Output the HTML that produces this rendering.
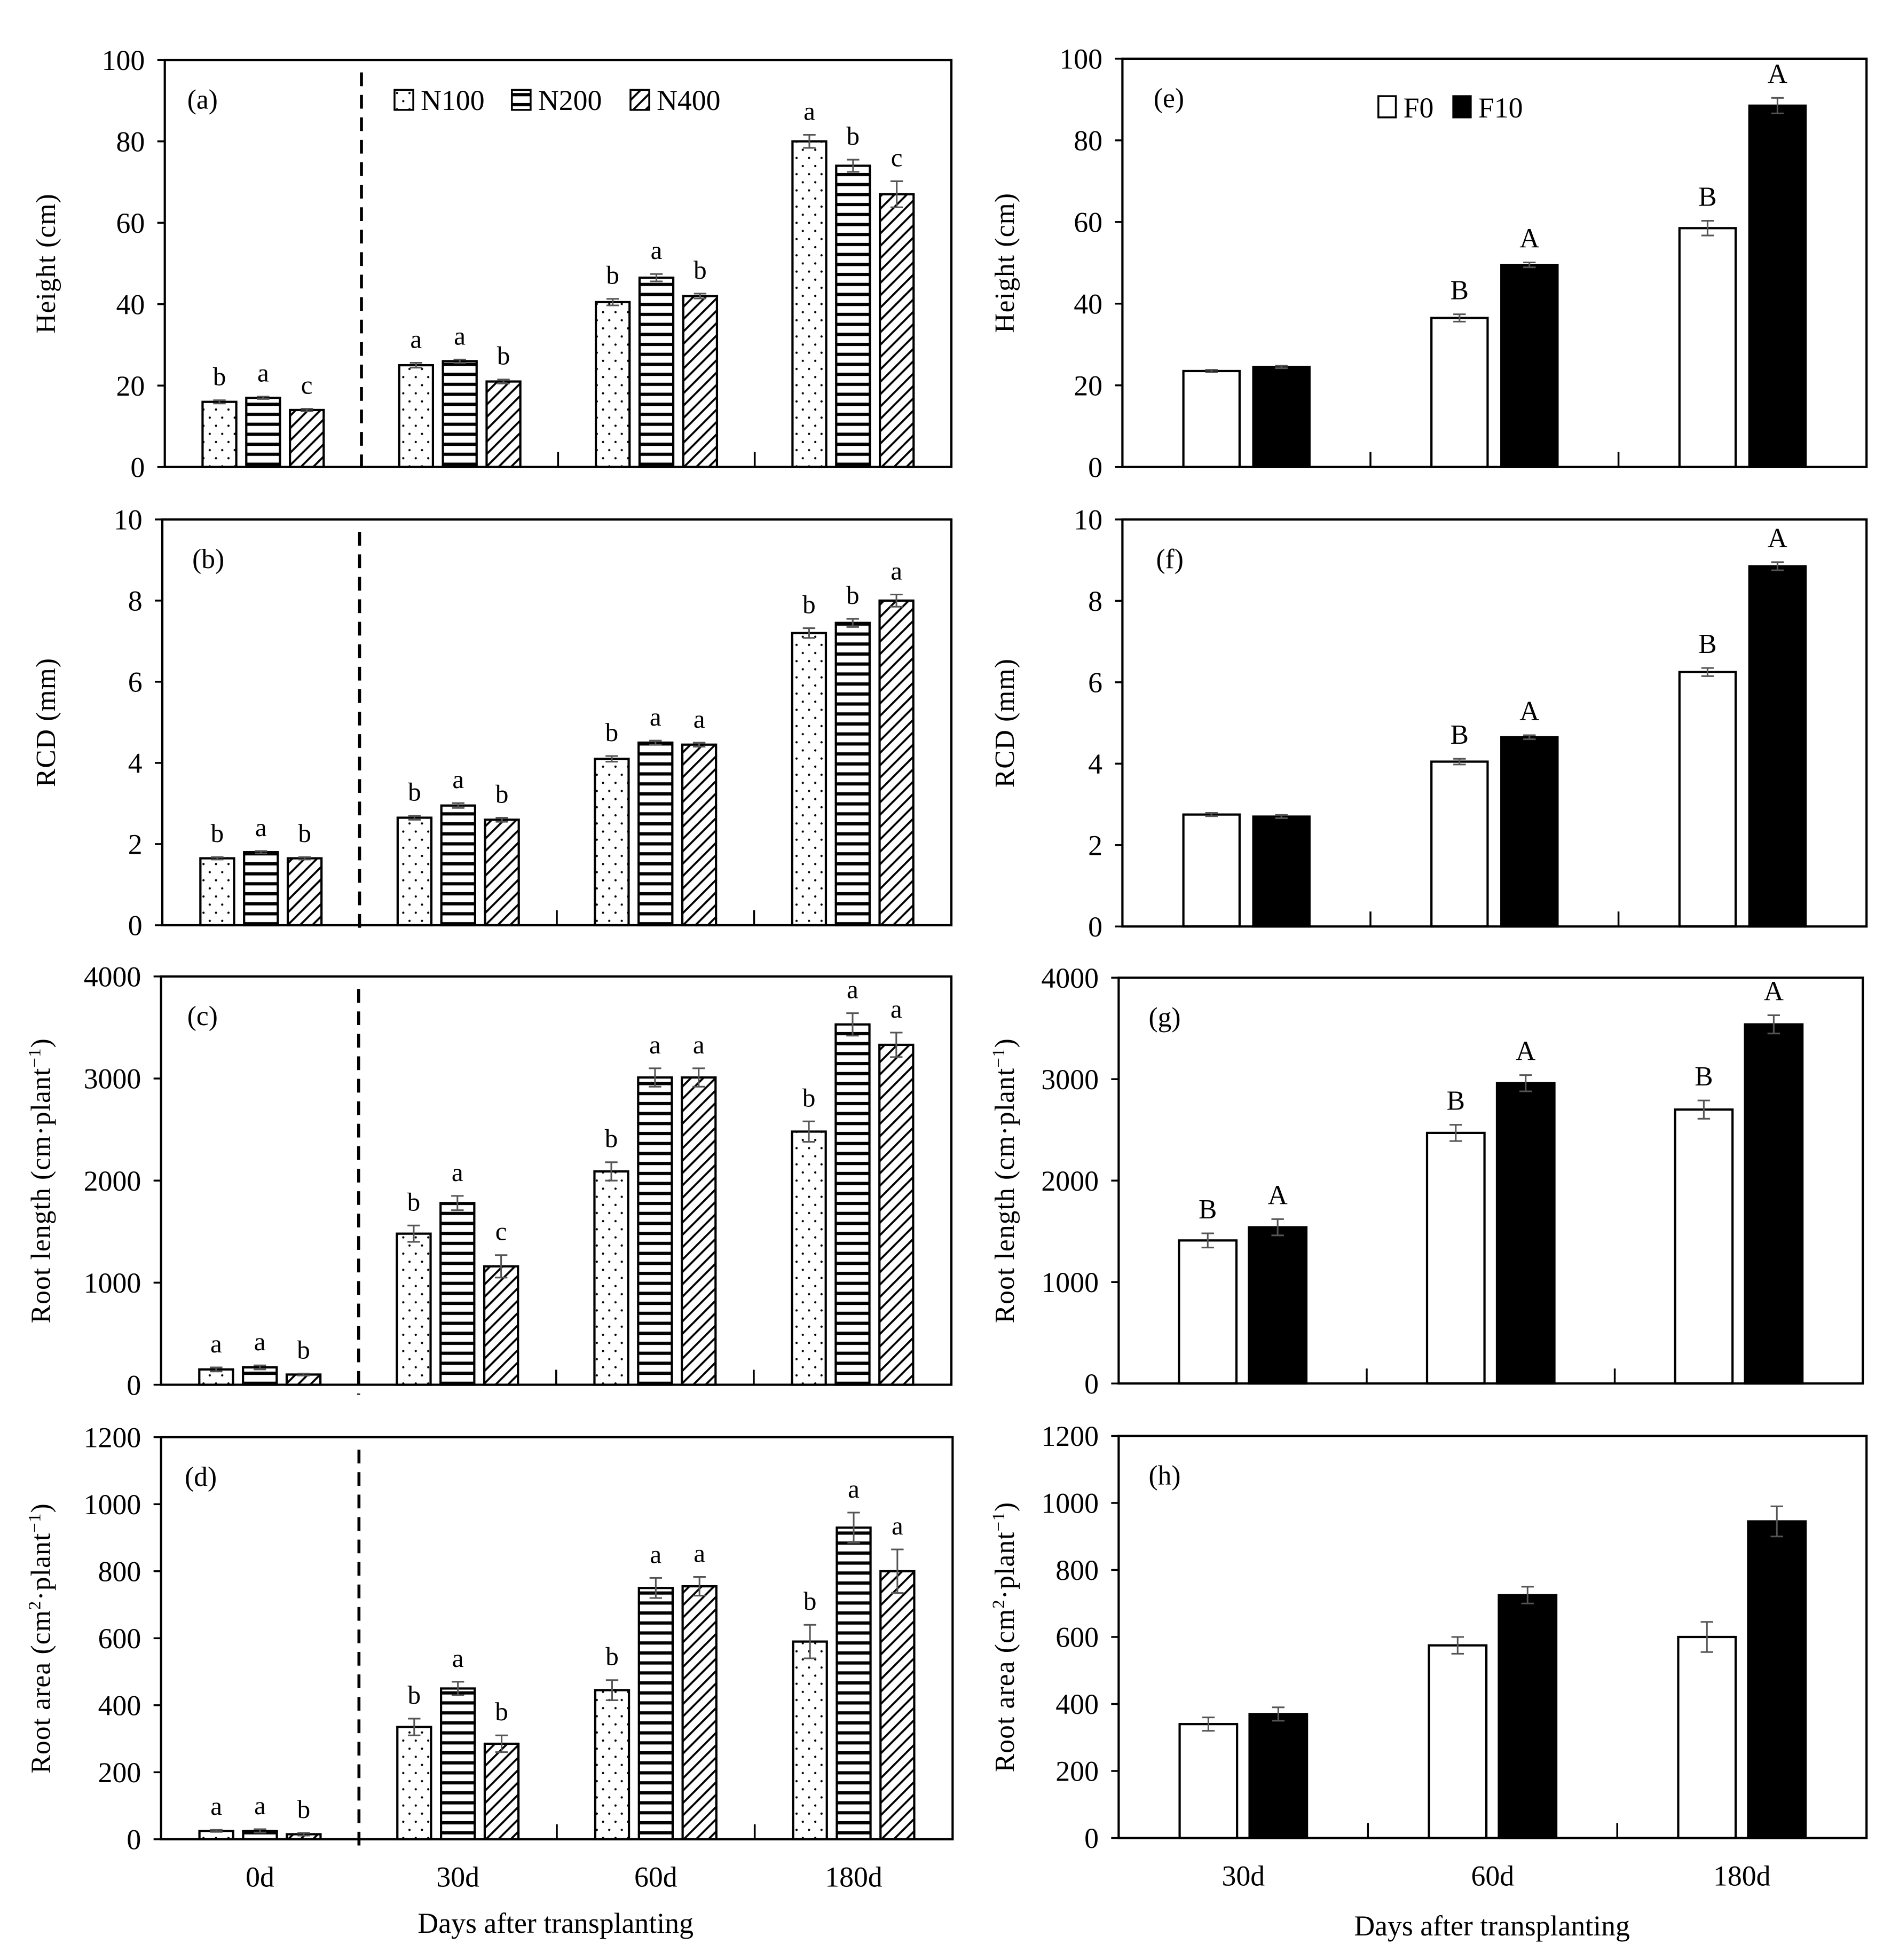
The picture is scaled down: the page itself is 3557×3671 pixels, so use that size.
<!DOCTYPE html>
<html><head><meta charset="utf-8"><style>
html,body{margin:0;padding:0;background:#fff}
svg{display:block}
text{font-family:"Liberation Serif",serif;fill:#000}
</style></head><body>
<svg id="fig" width="3557" height="3671" viewBox="0 0 1521 1569.7" preserveAspectRatio="none" xmlns="http://www.w3.org/2000/svg">
<defs>
<pattern id="pDots" width="10" height="13" patternUnits="userSpaceOnUse"><rect width="10" height="13" fill="#fff"/><circle cx="3" cy="3" r="0.9" fill="#000"/><circle cx="8" cy="9.5" r="0.9" fill="#000"/></pattern>
<pattern id="pHoriz" width="8" height="8" patternUnits="userSpaceOnUse"><rect width="8" height="8" fill="#fff"/><rect y="2.5" width="8" height="2.6" fill="#000"/></pattern>
<pattern id="pDiag" width="7" height="7" patternUnits="userSpaceOnUse" patternTransform="rotate(45)"><rect width="7" height="7" fill="#fff"/><rect x="0" width="1.6" height="7" fill="#000"/></pattern>
</defs>
</svg>
<script>
// ---- data ----
const daysN = ["0d","30d","60d","180d"];
const daysF = ["30d","60d","180d"];
const seriesN = ["N100","N200","N400"];
const seriesF = ["F0","F10"];
// Height (cm)
const heightN100 = [16,25,40.5,80];
const heightN200 = [17,26,46.5,74];
const heightN400 = [14,21,42,67];
const heightErrN = [[0.4,0.6,0.8,1.6],[0.3,0.4,0.9,1.5],[0.3,0.5,0.6,3.2]];
const heightLetN = [["b","a","b","a"],["a","a","a","b"],["c","b","b","c"]];
// RCD (mm)
const rcdN100 = [1.65,2.65,4.1,7.2];
const rcdN200 = [1.8,2.95,4.5,7.45];
const rcdN400 = [1.65,2.6,4.45,8.0];
const rcdErrN = [[0.03,0.05,0.07,0.12],[0.03,0.06,0.05,0.1],[0.03,0.05,0.05,0.15]];
const rcdLetN = [["b","b","b","b"],["a","a","a","b"],["b","b","a","a"]];
// Root length
const lenN100 = [150,1480,2090,2480];
const lenN200 = [170,1780,3010,3530];
const lenN400 = [100,1160,3010,3330];
const lenErrN = [[20,80,90,100],[20,70,90,110],[10,110,90,120]];
const lenLetN = [["a","b","b","b"],["a","a","a","a"],["b","c","a","a"]];
// Root area
const areaN100 = [25,335,445,590];
const areaN200 = [25,450,750,930];
const areaN400 = [15,285,755,800];
const areaErrN = [[3,25,30,50],[5,20,30,45],[4,25,28,65]];
const areaLetN = [["a","b","b","b"],["a","a","a","a"],["b","b","a","a"]];
// F panels
const heightF0 = [23.5,36.5,58.5];
const heightF10 = [24.5,49.5,88.5];
const heightErrF = [[0.3,0.9,1.8],[0.3,0.6,1.9]];
const heightLetF = [["","B","B"],["","A","A"]];
const rcdF0 = [2.75,4.05,6.25];
const rcdF10 = [2.7,4.65,8.85];
const rcdErrF = [[0.04,0.07,0.1],[0.04,0.05,0.1]];
const rcdLetF = [["","B","B"],["","A","A"]];
const lenF0 = [1410,2470,2700];
const lenF10 = [1540,2960,3540];
const lenErrF = [[70,80,90],[80,80,90]];
const lenLetF = [["B","B","B"],["A","A","A"]];
const areaF0 = [340,575,600];
const areaF10 = [370,725,945];
const areaErrF = [[20,25,45],[20,25,45]];
const areaLetF = [["","",""],["","",""]];
// ticks
const ticksHeight = [0,20,40,60,80,100];
const ticksRcd = [0,2,4,6,8,10];
const ticksLen = [0,1000,2000,3000,4000];
const ticksArea = [0,200,400,600,800,1000,1200];

const NS="http://www.w3.org/2000/svg";
const svg=document.getElementById('fig');
function mk(tag,attrs,parent){const e=document.createElementNS(NS,tag);for(const k in attrs)e.setAttribute(k,attrs[k]);(parent||svg).appendChild(e);return e;}

function panel(o){
  const g=mk('g',{});
  
  
  const x0=o.x0,x1=o.x1,y0=o.y0,y1=o.y1,max=o.ticks[o.ticks.length-1];
  const ys=v=>y1-(v/max)*(y1-y0);
  const ng=o.cats.length, gw=(x1-x0)/ng;
  const xc=i=>x0+gw*(i+0.5);
  // bars
  o.series.forEach((vals,s)=>{
    vals.forEach((v,i)=>{
      const cx=xc(i)+o.offsets[s];
      const r=mk('rect',{x:cx-o.bw/2,y:ys(v),width:o.bw,height:y1-ys(v),fill:o.fills[s],stroke:'#000','stroke-width':1.8},g);
      
      
      const e=o.errs[s][i];
      const ec=o.fills[s]==='#000'?'#555':'#555';
      mk('line',{x1:cx,x2:cx,y1:ys(v+e),y2:ys(v-e),stroke:ec,'stroke-width':1.3},g);
      mk('line',{x1:cx-5,x2:cx+5,y1:ys(v+e),y2:ys(v+e),stroke:ec,'stroke-width':1.3},g);
      mk('line',{x1:cx-5,x2:cx+5,y1:ys(v-e),y2:ys(v-e),stroke:ec,'stroke-width':1.3},g);
      const L=o.lets[s][i];
      if(L){const t=mk('text',{x:cx,y:ys(v+e)-12,'text-anchor':'middle','font-size':o.upper?22:21},g);t.textContent=L;
        }
    });
  });
  // frame
  mk('rect',{x:x0,y:y0,width:x1-x0,height:y1-y0,fill:'none',stroke:'#000','stroke-width':1.8},g);
  // y ticks
  o.ticks.forEach(t=>{
    mk('line',{x1:x0-6,x2:x0,y1:ys(t),y2:ys(t),stroke:'#000','stroke-width':1.5},g);
    const tx=mk('text',{x:x0-16,y:ys(t)+8,'text-anchor':'end','font-size':23},g);tx.textContent=t;
    
  });
  // x group separators
  for(let i=1;i<ng;i++){ if(o.dash && i===1) continue; mk('line',{x1:x0+gw*i,x2:x0+gw*i,y1:y1,y2:y1-12,stroke:'#000','stroke-width':1.5},g);}
  if(o.dash){const d=mk('line',{x1:x0+gw,x2:x0+gw,y1:y0+10,y2:y1+8,stroke:'#000','stroke-width':2.4,'stroke-dasharray':'11,7'},g);
    }
  // panel label
  const pl=mk('text',{x:o.labx,y:y0+39,'font-size':22},g);pl.textContent=o.label;
  
  // y title
  const yt=mk('text',{x:0,y:0,'text-anchor':'middle','font-size':22,'letter-spacing':'0.5',transform:`translate(${o.tx},${(y0+y1)/2}) rotate(-90)`},g);
  yt.innerHTML=o.title;
  
  // x labels
  if(o.xlabels){o.cats.forEach((c,i)=>{const t=mk('text',{x:xc(i),y:y1+38,'text-anchor':'middle','font-size':23},g);t.textContent=c;
    });}
}
const fillsN=['url(#pDots)','url(#pHoriz)','url(#pDiag)'];
const offN=[-35,0,35], offF=[-28,28];
const fillsF=['#fff','#000'];
const L={x0:132,x1:762}, R={x0:899,x1:1495};
const superT = s=>s;
panel({name:'panel-a-height-n',...L,y0:48,y1:374,ticks:ticksHeight,cats:daysN,series:[heightN100,heightN200,heightN400],errs:heightErrN,lets:heightLetN,fills:fillsN,offsets:offN,bw:27,snames:seriesN,dash:true,label:'(a)',labx:150,tx:44,title:'Height (cm)'});
panel({name:'panel-b-rcd-n',x0:130,x1:762,y0:416,y1:741,ticks:ticksRcd,cats:daysN,series:[rcdN100,rcdN200,rcdN400],errs:rcdErrN,lets:rcdLetN,fills:fillsN,offsets:offN,bw:27,snames:seriesN,dash:true,label:'(b)',labx:154,tx:44,title:'RCD (mm)'});
panel({name:'panel-c-root-length-n',x0:129,x1:762,y0:782,y1:1109,ticks:ticksLen,cats:daysN,series:[lenN100,lenN200,lenN400],errs:lenErrN,lets:lenLetN,fills:fillsN,offsets:offN,bw:27,snames:seriesN,dash:true,label:'(c)',labx:150,tx:40,title:'Root length (cm·plant<tspan baseline-shift="super" font-size="14">−1</tspan>)'});
panel({name:'panel-d-root-area-n',x0:129,x1:763,y0:1151,y1:1473,ticks:ticksArea,cats:daysN,series:[areaN100,areaN200,areaN400],errs:areaErrN,lets:areaLetN,fills:fillsN,offsets:offN,bw:27,snames:seriesN,dash:true,label:'(d)',labx:148,tx:40,title:'Root area (cm<tspan baseline-shift="super" font-size="14">2</tspan>·plant<tspan baseline-shift="super" font-size="14">−1</tspan>)',xlabels:true});
panel({name:'panel-e-height-f',...R,y0:47,y1:374,ticks:ticksHeight,cats:daysF,series:[heightF0,heightF10],errs:heightErrF,lets:heightLetF,fills:fillsF,offsets:offF,bw:45,snames:seriesF,label:'(e)',labx:924,tx:812,title:'Height (cm)',upper:true});
panel({name:'panel-f-rcd-f',...R,y0:416,y1:742,ticks:ticksRcd,cats:daysF,series:[rcdF0,rcdF10],errs:rcdErrF,lets:rcdLetF,fills:fillsF,offsets:offF,bw:45,snames:seriesF,label:'(f)',labx:926,tx:812,title:'RCD (mm)',upper:true});
panel({name:'panel-g-root-length-f',x0:896,x1:1492,y0:783,y1:1108,ticks:ticksLen,cats:daysF,series:[lenF0,lenF10],errs:lenErrF,lets:lenLetF,fills:fillsF,offsets:offF,bw:46,snames:seriesF,label:'(g)',labx:920,tx:812,title:'Root length (cm·plant<tspan baseline-shift="super" font-size="14">−1</tspan>)',upper:true});
panel({name:'panel-h-root-area-f',x0:896,x1:1495,y0:1150,y1:1472,ticks:ticksArea,cats:daysF,series:[areaF0,areaF10],errs:areaErrF,lets:areaLetF,fills:fillsF,offsets:offF,bw:46,snames:seriesF,label:'(h)',labx:920,tx:812,title:'Root area (cm<tspan baseline-shift="super" font-size="14">2</tspan>·plant<tspan baseline-shift="super" font-size="14">−1</tspan>)',xlabels:true,upper:true});

// x-axis titles
let t=mk('text',{x:445,y:1548,'text-anchor':'middle','font-size':23});t.textContent='Days after transplanting';

t=mk('text',{x:1195,y:1550,'text-anchor':'middle','font-size':23});t.textContent='Days after transplanting';


// legends
const legN=mk('g',{});


[[316,'N100'],[410,'N200'],[505,'N400']].forEach((p,i)=>{
  const r=mk('rect',{x:p[0],y:72,width:15,height:16,fill:fillsN[i],stroke:'#000','stroke-width':1.5},legN);
  
  const tx=mk('text',{x:p[0]+21,y:88,'font-size':23},legN);tx.textContent=p[1];
  
});
const legF=mk('g',{});


[[1104,'F0','#fff'],[1164,'F10','#000']].forEach(p=>{
  const r=mk('rect',{x:p[0],y:77,width:14,height:17,fill:p[2],stroke:'#000','stroke-width':1.5},legF);
  
  const tx=mk('text',{x:p[0]+20,y:94,'font-size':23},legF);tx.textContent=p[1];
  
});
</script>
</body></html>
